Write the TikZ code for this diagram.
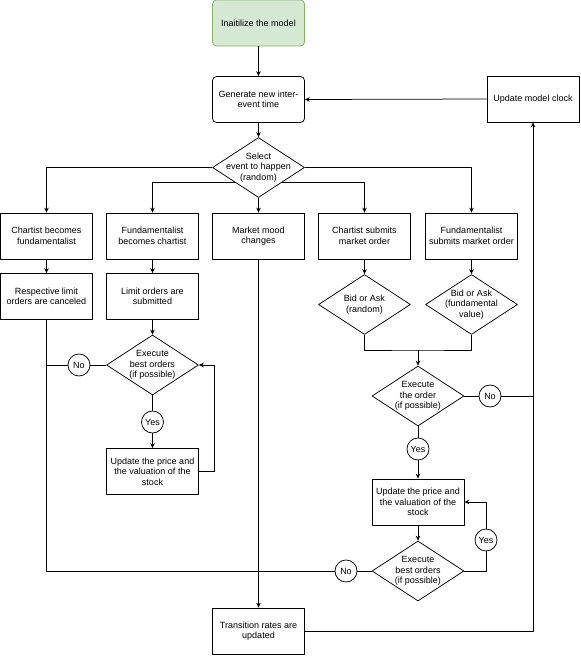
\documentclass[tikz,border=0pt]{standalone}
\usepackage{fontspec}
\setmainfont{Liberation Sans}
\usetikzlibrary{shapes.geometric,arrows.meta}
\definecolor{initfill}{HTML}{D5E8D4}
\definecolor{initline}{HTML}{82B366}
\begin{document}
\begin{tikzpicture}[x=1pt, y=-1pt, font=\fontsize{9}{10.5}\selectfont, line join=round, line width=0.75pt, >={Stealth[length=5pt,width=4.5pt]}]
	\tikzset{bx/.style={draw=black,minimum width=92pt,minimum height=46pt,inner sep=1pt,align=center},
		rb/.style={bx,rounded corners=4pt},
		dm/.style={draw=black,diamond,minimum width=92pt,minimum height=60pt,inner sep=-10pt,align=center},
		cr/.style={draw=black,circle,minimum size=22pt,inner sep=0pt}}
	\useasboundingbox (0,0) rectangle (581,662);
	\path(258.5,23)node[rb,fill=initfill,draw=initline](init){Inaitilize the model}
		(258.5,99.5)node[rb](gen){Generate new inter-\\event time}
		(533,99)node[bx](clock){Update model clock}
		(258.5,167.5)node[dm](sel){Select\\event to happen\\(random)};
	\path(46.5,236)node[bx](c2f){Chartist becomes\\fundamentalist}
		(152.5,236)node[bx](f2c){Fundamentalist\\becomes chartist}
		(258.5,236)node[bx](mood){Market mood\\changes}
		(364.5,236)node[bx](csub){Chartist submits\\market order}
		(471.5,236)node[bx](fsub){Fundamentalist\\submits market order};
	\path(46.5,296.5)node[bx](cancel){Respective limit\\orders are canceled}
		(152.5,296.5)node[bx](limit){Limit orders are\\submitted}
		(364.5,304.5)node[dm](bidr){Bid or Ask\\(random)}
		(471.5,304.5)node[dm](bidf){Bid or Ask\\(fundamental\\value)};
	\path(152.5,365)node[dm](ex1){Execute\\best orders\\(if possible)}
		(79,365)node[cr](no1){No}
		(152.5,422)node[cr](yes1){Yes}
		(152.5,471.5)node[bx](upd1){Update the price and\\the valuation of the\\stock};
	\coordinate(join) at (418,350);
	\path(418,396)node[dm](ex2){Execute\\the order\\(if possible)}
		(490,396)node[cr](no2){No}
		(418,449)node[cr](yes2){Yes}
		(418,502)node[bx](upd2){Update the price and\\the valuation of the\\stock}
		(418,571)node[dm](ex3){Execute\\best orders\\(if possible)}
		(346,571)node[cr](no3){No}
		(486,540)node[cr](yes3){Yes}
		(258.5,631)node[bx](trans){Transition rates are\\updated};
	\foreach \x/\y in {
		init/gen,gen/sel,sel/mood,
		c2f/cancel,f2c/limit,csub/bidr,fsub/bidf,
		limit/ex1,yes1/upd1,mood/trans,
		yes2/upd2,upd2/ex3}
	\draw[->](\x.south)--(\y.north);
	\foreach \x/\y in {ex1/yes1,ex2/yes2}
	\draw(\x.south)--(\y.north);
	\draw[->](clock.west)--(gen.east);
	\draw[->](sel.west)-|(c2f.north);
	\draw[->](sel.east)-|(fsub.north);
	\draw[->](sel.south west)-|(f2c.north);
	\draw[->](sel.south east)-|(csub.north);
	\draw(ex1.west)--(no1.east)(no1.west)--(no1.west-|cancel.south);
	\draw(cancel.south)|-(no3.west);
	\draw[->](upd1.east)--++(15,0)|-(ex1.east);
	\draw(bidr.south)|-(join)-|(bidf.south);
	\draw[->](join)--(ex2.north);
	\draw(ex2.east)--(no2.west)(no2.east)--(no2.east-|clock.south);
	\draw(ex3.west)--(no3.east);
	\draw(ex3.east)-|(yes3.south);
	\draw[->](yes3.north)|-(upd2.east);
	\draw[->](trans.east)-|(clock.south);
\end{tikzpicture}
\end{document}
